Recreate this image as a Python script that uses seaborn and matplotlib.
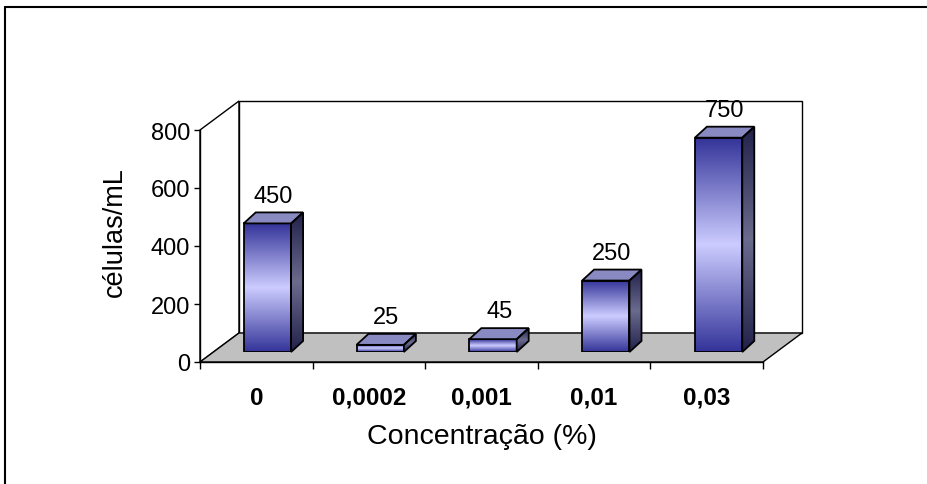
import numpy as np
import pandas as pd
import matplotlib
matplotlib.use("Agg")
import matplotlib.pyplot as plt
import seaborn as sns
from matplotlib.patches import Polygon
from matplotlib.colors import LinearSegmentedColormap

# dados
concentracoes = ["0", "0,0002", "0,001", "0,01", "0,03"]
celulas = [450, 25, 45, 250, 750]
y_ticks = [0, 200, 400, 600, 800]

W, H = 928, 485

sns.set_theme(style="white")
plt.rcParams["font.family"] = ["Liberation Sans", "DejaVu Sans"]
plt.rcParams["text.color"] = "black"
plt.rcParams["axes.labelcolor"] = "black"
plt.rcParams["xtick.color"] = "black"
plt.rcParams["ytick.color"] = "black"

fig = plt.figure(figsize=(W / 100, H / 100), dpi=100)


def caixa(x0, y0, x1, y1):
    # caixa em pixels (origem no topo) -> fração da figura
    return [x0 / W, 1 - y1 / H, (x1 - x0) / W, (y1 - y0) / H]


# camada de fundo em pixels (paredes e piso)
ax_bg = fig.add_axes([0, 0, 1, 1], zorder=0)
ax_bg.set_xlim(0, W)
ax_bg.set_ylim(H, 0)
ax_bg.axis("off")

# eixo frontal (escala e rótulos)
ax = fig.add_axes(caixa(200, 131, 763, 363), zorder=1)
ax.patch.set_visible(False)
ax.set_xlim(-0.5, 4.5)
ax.set_ylim(0, 800)
for lado in ["top", "right"]:
    ax.spines[lado].set_visible(False)
for lado in ["left", "bottom"]:
    ax.spines[lado].set_color("black")
    ax.spines[lado].set_linewidth(1)
ax.set_yticks(y_ticks)
ax.set_yticklabels([str(v) for v in y_ticks], fontsize=17)
ax.tick_params(axis="y", left=True, length=4, width=1, pad=3, color="black")
ax.set_xticks(np.arange(-0.5, 5, 1))
ax.set_xticklabels([])
ax.set_xticks(range(len(concentracoes)), minor=True)
ax.set_xticklabels(concentracoes, minor=True, fontsize=17.5, fontweight="bold")
ax.tick_params(axis="x", which="major", bottom=True, length=5, width=1, color="black")
ax.tick_params(axis="x", which="minor", bottom=False, length=0, pad=17)
ax.set_xlabel("Concentração (%)", fontsize=20.5, va="center")
ax.xaxis.set_label_coords(0.501, (363 - 437) / 232)
ax.set_ylabel("células/mL", fontsize=19.5, va="center")
ax.yaxis.set_label_coords((115 - 200) / 563, (363 - 232) / 232)


def em_px(eixo, x, y):
    d = eixo.transData.transform((x, y))
    return ax_bg.transData.inverted().transform(d)


prof = np.array([39, -29])
fl0 = em_px(ax, -0.5, 0)
fr0 = em_px(ax, 4.5, 0)
fl8 = em_px(ax, -0.5, 800)
fr8 = em_px(ax, 4.5, 800)

ax_bg.add_patch(Polygon([fl0, fl8, fl8 + prof, fl0 + prof], closed=True,
                        facecolor="white", edgecolor="black", lw=1))
ax_bg.add_patch(Polygon([fl0 + prof, fl8 + prof, fr8 + prof, fr0 + prof], closed=True,
                        facecolor="white", edgecolor="black", lw=1))
ax_bg.add_patch(Polygon([fl0, fr0, fr0 + prof, fl0 + prof], closed=True,
                        facecolor="#c0c0c0", edgecolor="black", lw=1))

# moldura recortada
ax_bg.plot([5, W], [8, 8], color="black", lw=1.5)
ax_bg.plot([5, 5], [8, H], color="black", lw=1.5)

# barras (plano das barras, um pouco recuado)
ax_bar = fig.add_axes(caixa(211, 124.4, 775, 353), zorder=2)
ax_bar.patch.set_visible(False)
df = pd.DataFrame({"conc": concentracoes, "cel": celulas})
sns.barplot(data=df, x="conc", y="cel", ax=ax_bar, width=0.42, color="#333399",
            edgecolor="black", linewidth=1.3, saturation=1)
ax_bar.set_xlim(-0.5, 4.5)
ax_bar.set_ylim(0, 800)
ax_bar.axis("off")

cm_frente = LinearSegmentedColormap.from_list("frente", ["#333399", "#ccccff", "#333399"])
cm_lado = LinearSegmentedColormap.from_list("lado", ["#20204a", "#6b6b8e", "#20204a"])
grad = np.linspace(0, 1, 256).reshape(-1, 1)

ax_fg = fig.add_axes([0, 0, 1, 1], zorder=3)
ax_fg.patch.set_visible(False)
ax_fg.set_xlim(0, W)
ax_fg.set_ylim(H, 0)
ax_fg.axis("off")

dx, dy = 12, -11
for i, barra in enumerate(ax_bar.patches):
    x0, y0 = barra.get_x(), barra.get_y()
    x1, y1 = x0 + barra.get_width(), y0 + barra.get_height()
    img = ax_bar.imshow(grad, extent=(x0, x1, y0, y1), cmap=cm_frente,
                        aspect="auto", origin="lower", zorder=0.5)
    img.set_clip_path(barra)
    barra.set_facecolor("none")

    a = em_px(ax_bar, x0, y0)
    b = em_px(ax_bar, x1, y0)
    c = em_px(ax_bar, x1, y1)
    d = em_px(ax_bar, x0, y1)
    off = np.array([dx, dy])
    topo = Polygon([d, c, c + off, d + off], closed=True,
                   facecolor="#8a8ac2", edgecolor="black", lw=1.3, zorder=3)
    lado = Polygon([b, c, c + off, b + off], closed=True,
                   facecolor="none", edgecolor="black", lw=1.3, zorder=3)
    ax_fg.add_patch(topo)
    ax_fg.add_patch(lado)
    img2 = ax_fg.imshow(grad, extent=(b[0], b[0] + dx, b[1], c[1] + dy), cmap=cm_lado,
                        aspect="auto", origin="upper", zorder=2)
    img2.set_clip_path(lado)

    ax_bar.annotate(str(celulas[i]), xy=((x0 + x1) / 2, y1), xytext=(4.5, 12),
                    textcoords="offset points", ha="center", va="bottom", fontsize=17)

ax_fg.set_xlim(0, W)
ax_fg.set_ylim(H, 0)

fig.savefig("out.png", dpi=100)
